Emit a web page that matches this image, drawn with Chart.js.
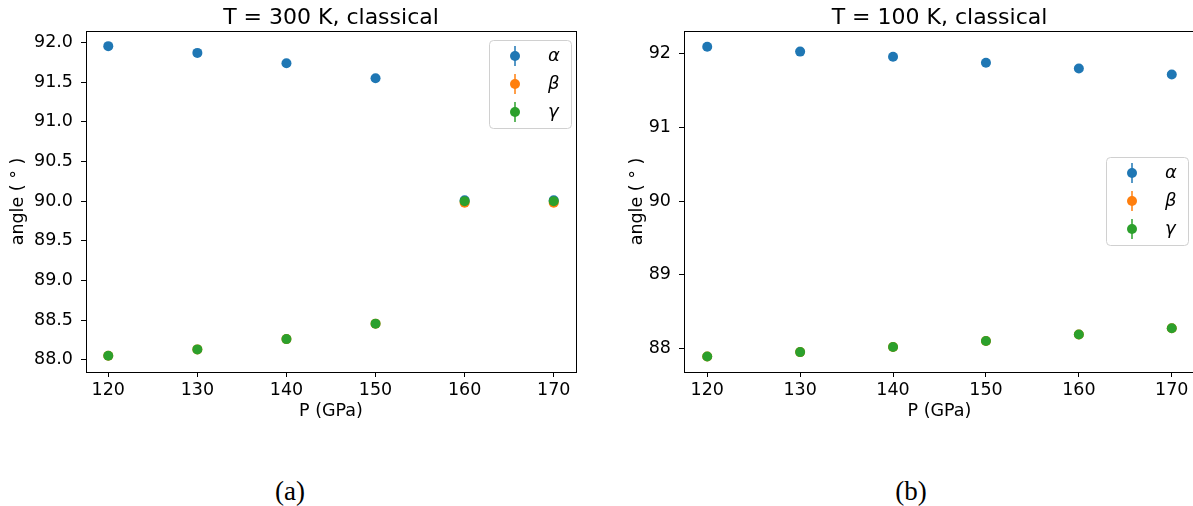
<!DOCTYPE html>
<html>
<head>
<meta charset="utf-8">
<script src="https://cdn.jsdelivr.net/npm/chart.js@4"></script>
<style>
  body { margin: 0; background: #fff; width: 1193px; height: 506px; position: relative; overflow: hidden; }
  canvas { position: absolute; top: 0; }
  .cap { position: absolute; top: 474px; width: 100px; text-align: center; font-family: "Liberation Serif", "DejaVu Serif", serif; font-size: 27px; line-height: 34px; color: #000; }
</style>
</head>
<body>
<canvas id="left" width="595" height="430" style="left:0px"></canvas>
<canvas id="right" width="600" height="430" style="left:600px"></canvas>
<div class="cap" style="left:240px">(a)</div>
<div class="cap" style="left:861px">(b)</div>
<script>
// pressure points (GPa)
const pressure = [120, 130, 140, 150, 160, 170];
const xTicks = [120, 130, 140, 150, 160, 170];

// T = 300 K
const alpha300 = [91.955, 91.87, 91.74, 91.55, 90.01, 90.01];
const beta300 = [88.05, 88.13, 88.26, 88.455, 89.98, 89.98];
const gamma300 = [88.05, 88.13, 88.26, 88.455, 90.0, 90.0];
const yTicks300 = [88.0, 88.5, 89.0, 89.5, 90.0, 90.5, 91.0, 91.5, 92.0];

// T = 100 K
const alpha100 = [92.095, 92.03, 91.96, 91.88, 91.80, 91.72];
const beta100 = [87.89, 87.95, 88.02, 88.10, 88.19, 88.275];
const gamma100 = [87.89, 87.95, 88.02, 88.10, 88.19, 88.275];
const yTicks100 = [88, 89, 90, 91, 92];

const labels = ['α', 'β', 'γ'];
const colors = ['#1f77b4', '#ff7f0e', '#2ca02c'];
const font = "'DejaVu Sans', sans-serif";

// box around the axes + title centred over the axes (like matplotlib)
const frame = {
  id: 'frame',
  afterDraw(chart, args, opts) {
    const a = chart.chartArea, c = chart.ctx;
    c.save();
    c.strokeStyle = '#000';
    c.lineWidth = 1;
    c.strokeRect(Math.round(a.left) + 0.5, Math.round(a.top) + 0.5, Math.round(a.right - a.left), Math.round(a.bottom - a.top));
    c.fillStyle = '#000';
    c.font = '22px ' + font;
    c.textAlign = 'center';
    c.textBaseline = 'alphabetic';
    c.fillText(opts.text, (a.left + a.right) / 2, 24);
    c.restore();
  }
};

// matplotlib-like legend inside the axes
const innerLegend = {
  id: 'innerLegend',
  afterDraw(chart, args, opts) {
    const a = chart.chartArea, c = chart.ctx;
    const w = 82, h = 88;
    const x = a.right - opts.right - w;
    const y = opts.top;
    c.save();
    c.fillStyle = 'rgba(255,255,255,0.8)';
    c.strokeStyle = '#d0d0d0';
    c.lineWidth = 1;
    c.beginPath();
    c.roundRect(x + 0.5, y + 0.5, w, h, 4);
    c.fill();
    c.stroke();
    chart.data.datasets.forEach((ds, i) => {
      const cy = y + 16 + i * 28;
      const mx = x + 26;
      c.strokeStyle = ds.backgroundColor;
      c.lineWidth = 1.5;
      c.beginPath();
      c.moveTo(mx, cy - 10);
      c.lineTo(mx, cy + 10);
      c.stroke();
      c.fillStyle = ds.backgroundColor;
      c.beginPath();
      c.arc(mx, cy, 5, 0, Math.PI * 2);
      c.fill();
      c.fillStyle = '#000';
      c.font = 'italic 18px ' + font;
      c.textBaseline = 'middle';
      c.fillText(ds.label, x + 59, cy);
    });
    c.restore();
  }
};

function makeChart(id, title, series, yTicks, yMin, yMax, yWidth, padRight, legendPos, decimals, yTitlePad) {
  new Chart(document.getElementById(id), {
    type: 'scatter',
    data: {
      datasets: series.map((vals, i) => ({
        label: labels[i],
        data: pressure.map((p, j) => ({ x: p, y: vals[j] })),
        backgroundColor: colors[i],
        borderColor: colors[i],
        pointRadius: 5,
        pointBorderWidth: 0,
        order: 3 - i
      }))
    },
    options: {
      responsive: false,
      animation: false,
      devicePixelRatio: 1,
      layout: { padding: { left: 0, right: padRight, top: 31, bottom: 0 } },
      plugins: {
        legend: { display: false },
        tooltip: { enabled: false },
        title: { display: false },
        frame: { text: title },
        innerLegend: legendPos
      },
      scales: {
        x: {
          type: 'linear',
          min: 117.5,
          max: 172.5,
          afterBuildTicks: s => { s.ticks = xTicks.map(v => ({ value: v })); },
          afterFit: s => { s.height = 58; },
          grid: { drawOnChartArea: false, drawTicks: true, tickLength: 5, color: '#000' },
          border: { display: false },
          ticks: { color: '#000', font: { family: font, size: 17.5 }, padding: 3, maxRotation: 0 },
          title: {
            display: true, text: 'P (GPa)', color: '#000',
            font: { family: font, size: 17.5 }, padding: { top: 0, bottom: 8.5 }
          }
        },
        y: {
          type: 'linear',
          min: yMin,
          max: yMax,
          afterBuildTicks: s => { s.ticks = yTicks.map(v => ({ value: v })); },
          afterFit: s => { s.width = yWidth; },
          grid: { drawOnChartArea: false, drawTicks: true, tickLength: 5, color: '#000' },
          border: { display: false },
          ticks: { color: '#000', font: { family: font, size: 17.5 }, padding: 8, callback: v => v.toFixed(decimals) },
          title: {
            display: true, text: 'angle ( ° )', color: '#000',
            font: { family: font, size: 17.5 }, padding: { top: yTitlePad, bottom: 0 }
          }
        }
      }
    },
    plugins: [frame, innerLegend]
  });
}

makeChart('left', 'T = 300 K, classical', [alpha300, beta300, gamma300], yTicks300,
  87.845, 92.146, 86, 19, { right: 5, top: 40 }, 1, 8);
makeChart('right', 'T = 100 K, classical', [alpha100, beta100, gamma100], yTicks100,
  87.68, 92.31, 84, 2, { right: 7, top: 157 }, 0, 27);
</script>
</body>
</html>
